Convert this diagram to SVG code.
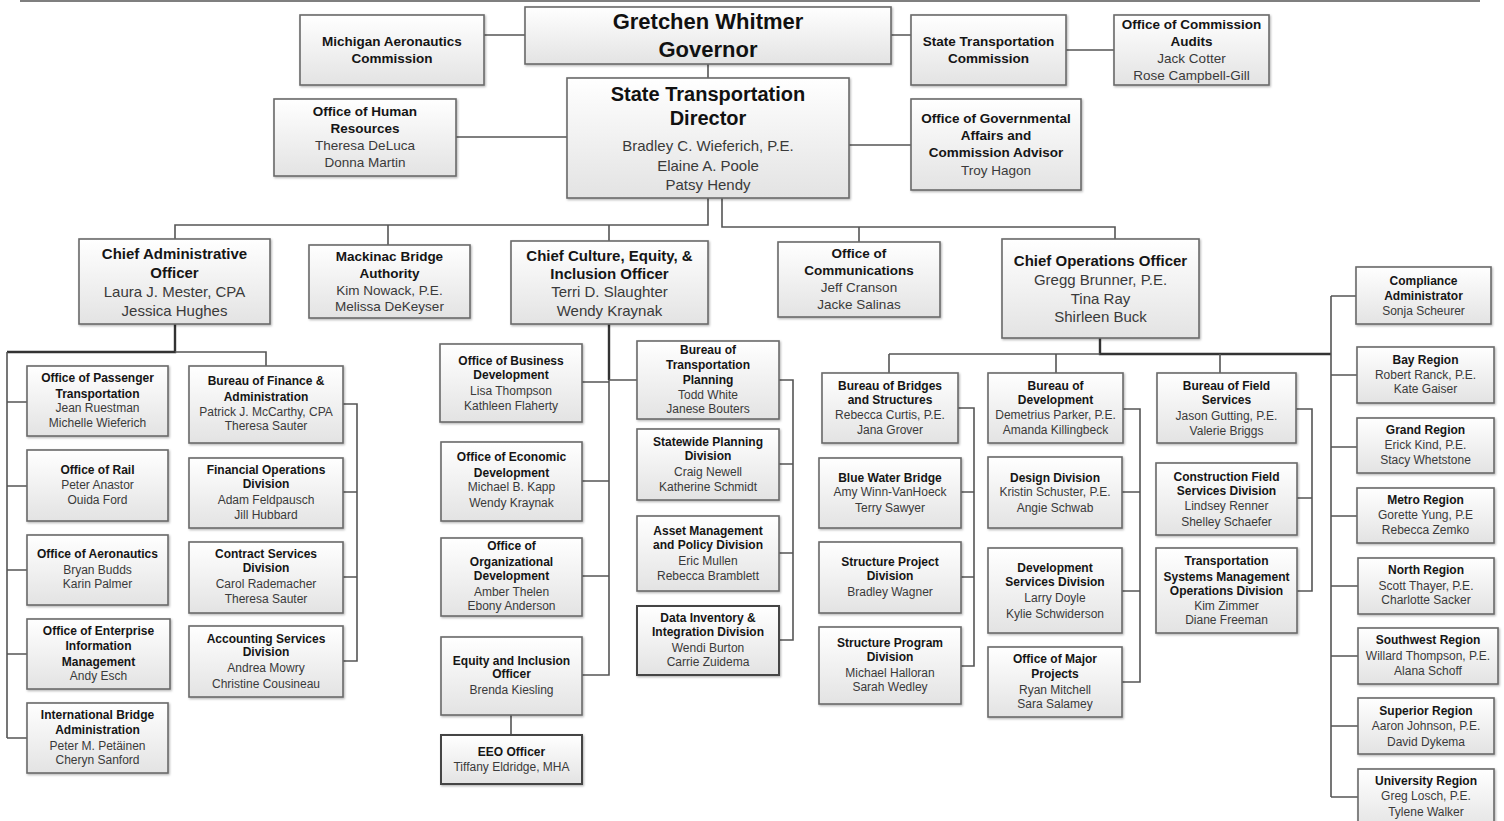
<svg xmlns="http://www.w3.org/2000/svg" width="1504" height="821" viewBox="0 0 1504 821">
<defs>
<linearGradient id="g" x1="0" y1="0" x2="0" y2="1"><stop offset="0" stop-color="#ffffff"/><stop offset="1" stop-color="#e3e3e3"/></linearGradient>
<filter id="sh" x="-5%" y="-5%" width="115%" height="120%"><feDropShadow dx="1" dy="1.2" stdDeviation="0.9" flood-color="#000" flood-opacity="0.3"/></filter>
<style>
.b{fill:url(#g);stroke:#6a6a6a;stroke-width:1.6;filter:url(#sh)}
.bk{fill:url(#g);stroke:#444;stroke-width:2;filter:url(#sh)}
text{font-family:"Liberation Sans",Arial,sans-serif;text-anchor:middle;dominant-baseline:central}
.t{font-size:12px;font-weight:bold;fill:#151515}
.n{font-size:12px;fill:#3a3a3a}
.t2{font-size:13.5px;font-weight:bold;fill:#151515}
.n2{font-size:13.5px;fill:#3a3a3a}
.t3{font-size:15px;font-weight:bold;fill:#151515}
.n3{font-size:15px;fill:#3a3a3a}
.gv{font-size:22px;font-weight:bold;fill:#111}
.dr{font-size:20px;font-weight:bold;fill:#111}
.c{fill:none;stroke:#555;stroke-width:1.6}
.ck{fill:none;stroke:#333;stroke-width:2.4}
</style>
</defs>
<rect width="1504" height="821" fill="#fff"/>
<g id="connectors">
<path class="c" d="M20 1H1480" stroke-width="2.2"/>
<path class="c" d="M484 35H525M891 35H911M1066 50H1114M708 64V78M456 137H567M849 145H911"/>
<path class="c" d="M708 198V225H175V239M388 225V245M609 225V241"/>
<path class="c" d="M722 198V227H1115V239M859 227V242"/>
<path class="ck" d="M175 324V352H7"/>
<path class="c" d="M175 352H266V366M7 352V738M7 402H27M7 486H27M7 570H27M7 654H27M7 738H27"/>
<path class="c" d="M343 404H357V661H343M343 492H357M343 577H357"/>
<path class="ck" d="M609 324V380"/>
<path class="c" d="M609 380V675H582M582 382H609M609 380H637M582 481H609M582 576H609M511 715V735"/>
<path class="c" d="M779 380H793V640H779M779 464H793M779 553H793"/>
<path class="ck" d="M1100 338V354H1331"/>
<path class="c" d="M889 354H1100M889 354V373M1056 354V373M1220 354V373M1331 296V797M1331 296H1356M1331 375H1357M1331 447H1357M1331 516H1357M1331 586H1358M1331 656H1358M1331 726H1358M1331 797H1358"/>
<path class="c" d="M958 408H974V666H961M961 492H974M961 577H974"/>
<path class="c" d="M1123 409H1140V682H1122M1122 492H1140M1122 591H1140"/>
<path class="c" d="M1296 409H1312V591H1297M1297 498H1312"/>
</g>
<g id="n-aero-commission"><rect class="b" x="300" y="15" width="184" height="70"/><text class="t2" x="392" y="41">Michigan Aeronautics</text><text class="t2" x="392" y="58">Commission</text></g>
<g id="n-governor"><rect class="b" x="525" y="7" width="366" height="57"/><text class="gv" x="708" y="21">Gretchen Whitmer</text><text class="gv" x="708" y="49">Governor</text></g>
<g id="n-stc"><rect class="b" x="911" y="15" width="155" height="70"/><text class="t2" x="988.5" y="41">State Transportation</text><text class="t2" x="988.5" y="58">Commission</text></g>
<g id="n-audits"><rect class="b" x="1114" y="15" width="155" height="70"/><text class="t2" x="1191.5" y="24">Office of Commission</text><text class="t2" x="1191.5" y="41">Audits</text><text class="n2" x="1191.5" y="58">Jack Cotter</text><text class="n2" x="1191.5" y="75">Rose Campbell-Gill</text></g>
<g id="n-director"><rect class="b" x="567" y="78" width="282" height="120"/><text class="dr" x="708" y="94">State Transportation</text><text class="dr" x="708" y="118">Director</text><text class="n3" x="708" y="145">Bradley C. Wieferich, P.E.</text><text class="n3" x="708" y="165">Elaine A. Poole</text><text class="n3" x="708" y="184">Patsy Hendy</text></g>
<g id="n-hr"><rect class="b" x="274" y="99" width="182" height="77"/><text class="t2" x="365" y="111">Office of Human</text><text class="t2" x="365" y="128">Resources</text><text class="n2" x="365" y="145">Theresa DeLuca</text><text class="n2" x="365" y="162">Donna Martin</text></g>
<g id="n-govaffairs"><rect class="b" x="911" y="99" width="170" height="91"/><text class="t2" x="996" y="118">Office of Governmental</text><text class="t2" x="996" y="135">Affairs and</text><text class="t2" x="996" y="152">Commission Advisor</text><text class="n2" x="996" y="170">Troy Hagon</text></g>
<g id="n-cao"><rect class="b" x="79" y="239" width="191" height="85"/><text class="t3" x="174.5" y="253">Chief Administrative</text><text class="t3" x="174.5" y="272">Officer</text><text class="n3" x="174.5" y="291">Laura J. Mester, CPA</text><text class="n3" x="174.5" y="310">Jessica Hughes</text></g>
<g id="n-mackinac"><rect class="b" x="309" y="245" width="161" height="73"/><text class="t2" x="389.5" y="256">Mackinac Bridge</text><text class="t2" x="389.5" y="273">Authority</text><text class="n2" x="389.5" y="290">Kim Nowack, P.E.</text><text class="n2" x="389.5" y="306">Melissa DeKeyser</text></g>
<g id="n-cco"><rect class="b" x="511" y="241" width="197" height="83"/><text class="t3" x="609.5" y="255">Chief Culture, Equity, &amp;</text><text class="t3" x="609.5" y="273">Inclusion Officer</text><text class="n3" x="609.5" y="291">Terri D. Slaughter</text><text class="n3" x="609.5" y="310">Wendy Kraynak</text></g>
<g id="n-comms"><rect class="b" x="778" y="242" width="162" height="75"/><text class="t2" x="859" y="253">Office of</text><text class="t2" x="859" y="270">Communications</text><text class="n2" x="859" y="287">Jeff Cranson</text><text class="n2" x="859" y="304">Jacke Salinas</text></g>
<g id="n-coo"><rect class="b" x="1002" y="239" width="197" height="99"/><text class="t3" x="1100.5" y="260">Chief Operations Officer</text><text class="n3" x="1100.5" y="279">Gregg Brunner, P.E.</text><text class="n3" x="1100.5" y="298">Tina Ray</text><text class="n3" x="1100.5" y="316">Shirleen Buck</text></g>
<g id="n-passenger"><rect class="b" x="27" y="366" width="141" height="70"/><text class="t" x="97.5" y="378">Office of Passenger</text><text class="t" x="97.5" y="394">Transportation</text><text class="n" x="97.5" y="408">Jean Ruestman</text><text class="n" x="97.5" y="423">Michelle Wieferich</text></g>
<g id="n-rail"><rect class="b" x="27" y="450" width="141" height="71"/><text class="t" x="97.5" y="470">Office of Rail</text><text class="n" x="97.5" y="485">Peter Anastor</text><text class="n" x="97.5" y="500">Ouida Ford</text></g>
<g id="n-aeronautics"><rect class="b" x="27" y="535" width="141" height="70"/><text class="t" x="97.5" y="554">Office of Aeronautics</text><text class="n" x="97.5" y="570">Bryan Budds</text><text class="n" x="97.5" y="584">Karin Palmer</text></g>
<g id="n-eim"><rect class="b" x="27" y="619" width="143" height="70"/><text class="t" x="98.5" y="631">Office of Enterprise</text><text class="t" x="98.5" y="646">Information</text><text class="t" x="98.5" y="662">Management</text><text class="n" x="98.5" y="676">Andy Esch</text></g>
<g id="n-intlbridge"><rect class="b" x="27" y="703" width="141" height="70"/><text class="t" x="97.5" y="715">International Bridge</text><text class="t" x="97.5" y="730">Administration</text><text class="n" x="97.5" y="746">Peter M. Petäinen</text><text class="n" x="97.5" y="760">Cheryn Sanford</text></g>
<g id="n-bfa"><rect class="b" x="189" y="366" width="154" height="77"/><text class="t" x="266" y="381">Bureau of Finance &amp;</text><text class="t" x="266" y="397">Administration</text><text class="n" x="266" y="412">Patrick J. McCarthy, CPA</text><text class="n" x="266" y="426">Theresa Sauter</text></g>
<g id="n-finops"><rect class="b" x="189" y="458" width="154" height="70"/><text class="t" x="266" y="470">Financial Operations</text><text class="t" x="266" y="484">Division</text><text class="n" x="266" y="500">Adam Feldpausch</text><text class="n" x="266" y="515">Jill Hubbard</text></g>
<g id="n-contract"><rect class="b" x="189" y="542" width="154" height="71"/><text class="t" x="266" y="554">Contract Services</text><text class="t" x="266" y="568">Division</text><text class="n" x="266" y="584">Carol Rademacher</text><text class="n" x="266" y="599">Theresa Sauter</text></g>
<g id="n-accounting"><rect class="b" x="189" y="626" width="154" height="71"/><text class="t" x="266" y="639">Accounting Services</text><text class="t" x="266" y="652">Division</text><text class="n" x="266" y="668">Andrea Mowry</text><text class="n" x="266" y="684">Christine Cousineau</text></g>
<g id="n-busdev"><rect class="b" x="440" y="344" width="142" height="78"/><text class="t" x="511" y="361">Office of Business</text><text class="t" x="511" y="375">Development</text><text class="n" x="511" y="391">Lisa Thompson</text><text class="n" x="511" y="406">Kathleen Flaherty</text></g>
<g id="n-econdev"><rect class="b" x="441" y="442" width="141" height="79"/><text class="t" x="511.5" y="457">Office of Economic</text><text class="t" x="511.5" y="473">Development</text><text class="n" x="511.5" y="487">Michael B. Kapp</text><text class="n" x="511.5" y="503">Wendy Kraynak</text></g>
<g id="n-orgdev"><rect class="b" x="441" y="538" width="141" height="78"/><text class="t" x="511.5" y="546">Office of</text><text class="t" x="511.5" y="562">Organizational</text><text class="t" x="511.5" y="576">Development</text><text class="n" x="511.5" y="592">Amber Thelen</text><text class="n" x="511.5" y="606">Ebony Anderson</text></g>
<g id="n-equity"><rect class="b" x="441" y="637" width="141" height="78"/><text class="t" x="511.5" y="661">Equity and Inclusion</text><text class="t" x="511.5" y="674">Officer</text><text class="n" x="511.5" y="690">Brenda Kiesling</text></g>
<g id="n-eeo"><rect class="bk" x="441" y="735" width="141" height="49"/><text class="t" x="511.5" y="752">EEO Officer</text><text class="n" x="511.5" y="767">Tiffany Eldridge, MHA</text></g>
<g id="n-btp"><rect class="b" x="637" y="341" width="142" height="78"/><text class="t" x="708" y="350">Bureau of</text><text class="t" x="708" y="365">Transportation</text><text class="t" x="708" y="380">Planning</text><text class="n" x="708" y="395">Todd White</text><text class="n" x="708" y="409">Janese Bouters</text></g>
<g id="n-statewide"><rect class="b" x="637" y="429" width="142" height="71"/><text class="t" x="708" y="442">Statewide Planning</text><text class="t" x="708" y="456">Division</text><text class="n" x="708" y="472">Craig Newell</text><text class="n" x="708" y="487">Katherine Schmidt</text></g>
<g id="n-asset"><rect class="b" x="637" y="516" width="142" height="75"/><text class="t" x="708" y="531">Asset Management</text><text class="t" x="708" y="545">and Policy Division</text><text class="n" x="708" y="561">Eric Mullen</text><text class="n" x="708" y="576">Rebecca Bramblett</text></g>
<g id="n-data"><rect class="bk" x="637" y="606" width="142" height="69"/><text class="t" x="708" y="618">Data Inventory &amp;</text><text class="t" x="708" y="632">Integration Division</text><text class="n" x="708" y="648">Wendi Burton</text><text class="n" x="708" y="662">Carrie Zuidema</text></g>
<g id="n-bbs"><rect class="b" x="822" y="373" width="136" height="70"/><text class="t" x="890" y="386">Bureau of Bridges</text><text class="t" x="890" y="400">and Structures</text><text class="n" x="890" y="415">Rebecca Curtis, P.E.</text><text class="n" x="890" y="430">Jana Grover</text></g>
<g id="n-bluewater"><rect class="b" x="819" y="458" width="142" height="70"/><text class="t" x="890" y="478">Blue Water Bridge</text><text class="n" x="890" y="492">Amy Winn-VanHoeck</text><text class="n" x="890" y="508">Terry Sawyer</text></g>
<g id="n-structproj"><rect class="b" x="819" y="542" width="142" height="71"/><text class="t" x="890" y="562">Structure Project</text><text class="t" x="890" y="576">Division</text><text class="n" x="890" y="592">Bradley Wagner</text></g>
<g id="n-structprog"><rect class="b" x="819" y="627" width="142" height="77"/><text class="t" x="890" y="643">Structure Program</text><text class="t" x="890" y="657">Division</text><text class="n" x="890" y="673">Michael Halloran</text><text class="n" x="890" y="687">Sarah Wedley</text></g>
<g id="n-bod"><rect class="b" x="988" y="373" width="135" height="70"/><text class="t" x="1055.5" y="386">Bureau of</text><text class="t" x="1055.5" y="400">Development</text><text class="n" x="1055.5" y="415">Demetrius Parker, P.E.</text><text class="n" x="1055.5" y="430">Amanda Killingbeck</text></g>
<g id="n-design"><rect class="b" x="988" y="457" width="134" height="71"/><text class="t" x="1055" y="478">Design Division</text><text class="n" x="1055" y="492">Kristin Schuster, P.E.</text><text class="n" x="1055" y="508">Angie Schwab</text></g>
<g id="n-devserv"><rect class="b" x="988" y="548" width="134" height="85"/><text class="t" x="1055" y="568">Development</text><text class="t" x="1055" y="582">Services Division</text><text class="n" x="1055" y="598">Larry Doyle</text><text class="n" x="1055" y="614">Kylie Schwiderson</text></g>
<g id="n-majorproj"><rect class="b" x="988" y="647" width="134" height="70"/><text class="t" x="1055" y="659">Office of Major</text><text class="t" x="1055" y="674">Projects</text><text class="n" x="1055" y="690">Ryan Mitchell</text><text class="n" x="1055" y="704">Sara Salamey</text></g>
<g id="n-bfs"><rect class="b" x="1157" y="373" width="139" height="70"/><text class="t" x="1226.5" y="386">Bureau of Field</text><text class="t" x="1226.5" y="400">Services</text><text class="n" x="1226.5" y="416">Jason Gutting, P.E.</text><text class="n" x="1226.5" y="431">Valerie Briggs</text></g>
<g id="n-cfsd"><rect class="b" x="1156" y="463" width="141" height="72"/><text class="t" x="1226.5" y="477">Construction Field</text><text class="t" x="1226.5" y="491">Services Division</text><text class="n" x="1226.5" y="506">Lindsey Renner</text><text class="n" x="1226.5" y="522">Shelley Schaefer</text></g>
<g id="n-tsmo"><rect class="b" x="1156" y="548" width="141" height="85"/><text class="t" x="1226.5" y="561">Transportation</text><text class="t" x="1226.5" y="577">Systems Management</text><text class="t" x="1226.5" y="591">Operations Division</text><text class="n" x="1226.5" y="606">Kim Zimmer</text><text class="n" x="1226.5" y="620">Diane Freeman</text></g>
<g id="n-compliance"><rect class="b" x="1356" y="267" width="135" height="57"/><text class="t" x="1423.5" y="281">Compliance</text><text class="t" x="1423.5" y="296">Administrator</text><text class="n" x="1423.5" y="311">Sonja Scheurer</text></g>
<g id="n-bay"><rect class="b" x="1357" y="347" width="137" height="56"/><text class="t" x="1425.5" y="360">Bay Region</text><text class="n" x="1425.5" y="375">Robert Ranck, P.E.</text><text class="n" x="1425.5" y="389">Kate Gaiser</text></g>
<g id="n-grand"><rect class="b" x="1357" y="418" width="137" height="55"/><text class="t" x="1425.5" y="430">Grand Region</text><text class="n" x="1425.5" y="445">Erick Kind, P.E.</text><text class="n" x="1425.5" y="460">Stacy Whetstone</text></g>
<g id="n-metro"><rect class="b" x="1357" y="488" width="137" height="55"/><text class="t" x="1425.5" y="500">Metro Region</text><text class="n" x="1425.5" y="515">Gorette Yung, P.E</text><text class="n" x="1425.5" y="530">Rebecca Zemko</text></g>
<g id="n-north"><rect class="b" x="1358" y="558" width="136" height="56"/><text class="t" x="1426" y="570">North Region</text><text class="n" x="1426" y="586">Scott Thayer, P.E.</text><text class="n" x="1426" y="600">Charlotte Sacker</text></g>
<g id="n-southwest"><rect class="b" x="1358" y="628" width="140" height="56"/><text class="t" x="1428" y="640">Southwest Region</text><text class="n" x="1428" y="656">Willard Thompson, P.E.</text><text class="n" x="1428" y="671">Alana Schoff</text></g>
<g id="n-superior"><rect class="b" x="1358" y="698" width="136" height="56"/><text class="t" x="1426" y="711">Superior Region</text><text class="n" x="1426" y="726">Aaron Johnson, P.E.</text><text class="n" x="1426" y="742">David Dykema</text></g>
<g id="n-university"><rect class="b" x="1358" y="769" width="136" height="62"/><text class="t" x="1426" y="781">University Region</text><text class="n" x="1426" y="796">Greg Losch, P.E.</text><text class="n" x="1426" y="812">Tylene Walker</text></g>
</svg>
